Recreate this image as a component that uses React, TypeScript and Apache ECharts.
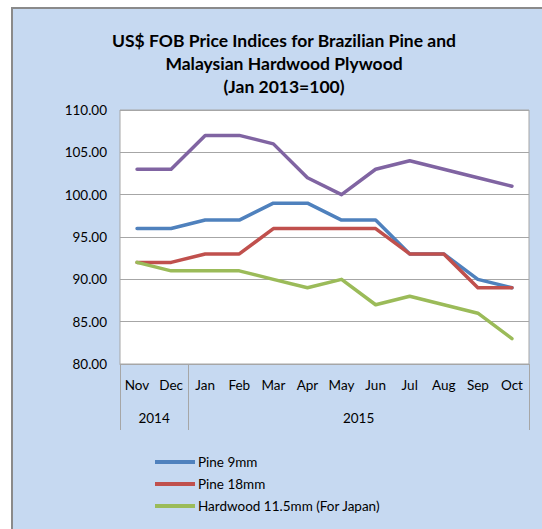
import React, { useEffect, useRef } from "react";
import * as echarts from "echarts";

const months = ["Nov", "Dec", "Jan", "Feb", "Mar", "Apr", "May", "Jun", "Jul", "Aug", "Sep", "Oct"];
const years = ["2014", "2015"];
const monthsPerYear = [2, 10];
const yTicks = [80, 85, 90, 95, 100, 105, 110];

const pine9 = [96, 96, 97, 97, 99, 99, 97, 97, 93, 93, 90, 89];
const pine18 = [92, 92, 93, 93, 96, 96, 96, 96, 93, 93, 89, 89];
const hardwoodJapan = [92, 91, 91, 91, 90, 89, 90, 87, 88, 87, 86, 83];
const hardwoodOther = [103, 103, 107, 107, 106, 102, 100, 103, 104, 103, 102, 101];

const FONT = "Lato";

export default function App() {
  const ref = useRef<HTMLDivElement>(null);
  useEffect(() => {
    const chart = echarts.init(ref.current!, undefined, { renderer: "svg" });
    const bounds: number[] = [0];
    const centers: number[] = [];
    monthsPerYear.forEach((n) => {
      const start = bounds[bounds.length - 1];
      centers.push(start + n / 2);
      bounds.push(start + n);
    });
    const line = (name: string, data: number[], color: string, z: number) => ({
      name,
      type: "line",
      data,
      showSymbol: false,
      symbol: "none",
      z,
      lineStyle: { color, width: 3.5, join: "round", cap: "round" },
      itemStyle: { color },
    });
    chart.setOption({
      animation: false,
      textStyle: { fontFamily: FONT },
      graphic: [
        {
          type: "rect",
          shape: { x: 12, y: 8, width: 600, height: 600 },
          style: { fill: "#c6d9f1", stroke: "#8a8a8a", lineWidth: 2 },
          z: -10,
          silent: true,
        },
      ],
      title: {
        text: "US$ FOB Price Indices for Brazilian Pine and\nMalaysian Hardwood Plywood\n(Jan 2013=100)",
        left: 279,
        top: 24,
        textAlign: "center",
        textStyle: {
          fontFamily: FONT,
          fontWeight: "bold",
          fontSize: 17.5,
          lineHeight: 23,
          color: "#000",
        },
      },
      legend: {
        data: ["Pine 9mm", "Pine 18mm", "Hardwood 11.5mm (For Japan)"],
        orient: "vertical",
        left: 150,
        top: 450,
        itemWidth: 40,
        itemHeight: 4,
        itemGap: 8,
        icon: "rect",
        textStyle: { fontFamily: FONT, fontSize: 13.5, color: "#000", padding: [0, 0, 0, -2] },
      },
      grid: {
        left: 120,
        top: 110,
        width: 409,
        height: 254,
        show: true,
        backgroundColor: "#ffffff",
        borderColor: "#a6a6a6",
        borderWidth: 1,
      },
      xAxis: [
        {
          type: "category",
          data: months,
          boundaryGap: true,
          axisLine: { lineStyle: { color: "#a6a6a6", width: 1 } },
          axisTick: { show: false },
          axisLabel: { color: "#000", fontSize: 13.5, margin: 14, fontFamily: FONT, interval: 0 },
          splitLine: { show: false },
        },
        {
          type: "value",
          min: 0,
          max: months.length,
          position: "bottom",
          axisLine: { show: false },
          axisTick: {
            show: true,
            customValues: bounds,
            length: 66,
            lineStyle: { color: "#a6a6a6", width: 1 },
          },
          axisLabel: {
            show: true,
            customValues: centers,
            formatter: (v: number) => {
              const i = centers.findIndex((c) => Math.abs(c - v) < 1e-6);
              return i >= 0 ? years[i] : "";
            },
            color: "#000",
            fontSize: 13.5,
            margin: 47,
            fontFamily: FONT,
          },
          splitLine: { show: false },
        },
      ],
      yAxis: {
        type: "value",
        min: yTicks[0],
        max: yTicks[yTicks.length - 1],
        interval: 5,
        axisLine: { show: false },
        axisTick: { show: false },
        axisLabel: {
          color: "#000",
          fontSize: 13.5,
          margin: 13,
          fontFamily: FONT,
          formatter: (v: number) => v.toFixed(2),
        },
        splitLine: { lineStyle: { color: "#a6a6a6", width: 1 } },
      },
      series: [
        line("Hardwood 12mm", hardwoodOther, "#8064a2", 2),
        line("Pine 9mm", pine9, "#4f81bd", 3),
        line("Pine 18mm", pine18, "#c0504d", 4),
        line("Hardwood 11.5mm (For Japan)", hardwoodJapan, "#9bbb59", 5),
      ],
    });
    return () => chart.dispose();
  }, []);
  return (
    <div
      ref={ref}
      style={{ position: "absolute", left: 0, top: 0, width: 542, height: 529 }}
    />
  );
}
